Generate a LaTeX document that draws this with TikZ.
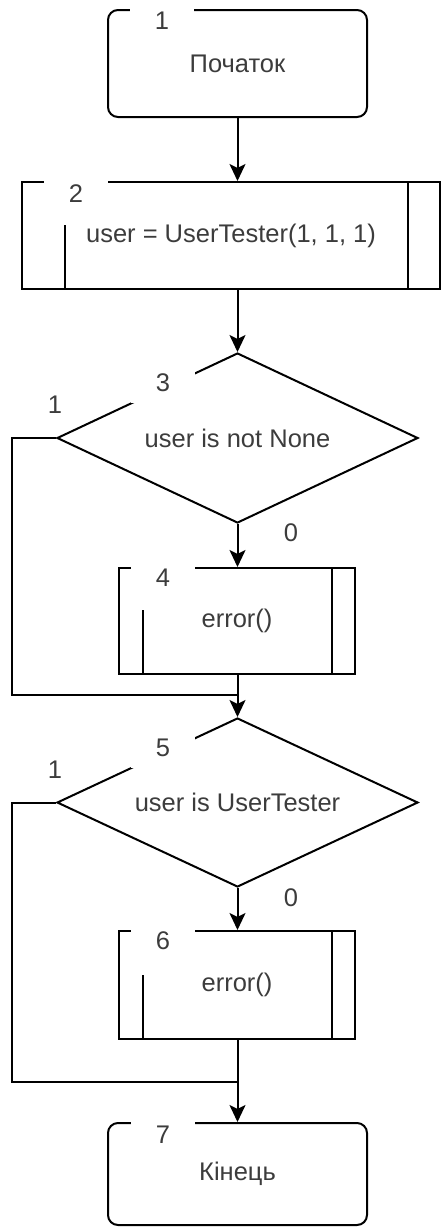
\documentclass[tikz,border=0pt]{standalone}
\usepackage{fontspec}
\setmainfont{Liberation Sans}
\usetikzlibrary{shapes.geometric,arrows.meta}
\definecolor{txt}{RGB}{60,60,60}
\tikzset{
  every node/.style={font=\fontsize{25.5}{30}\selectfont, text=txt},
  ln/.style={line width=2pt, draw=black},
  term/.style={ln, rounded corners=10pt, minimum width=259pt, inner sep=0pt},
  proc/.style={ln, inner sep=0pt},
  dec/.style={ln, diamond, minimum width=361pt, minimum height=170pt, inner sep=0pt, aspect=2.1},
  num/.style={fill=white, minimum width=64pt, minimum height=40pt, inner sep=0pt},
  plain/.style={inner sep=0pt},
  arr/.style={ln, -{Stealth[length=17pt,width=16pt,inset=4pt]}},
}
\begin{document}
\begin{tikzpicture}[x=1pt,y=-1pt]
\useasboundingbox (0,0) rectangle (442,1227);
% nodes
\node[term, minimum height=107pt] (start) at (237.5,63.5) {Початок};
\node[proc, minimum width=418pt, minimum height=107pt] (p2) at (231,235.5) {user = UserTester(1, 1, 1)};
\draw[ln] (65,289) -- (65,225);
\draw[ln] (408,182) -- (408,289);
\node[dec] (d3) at (237.5,438) {user is not None};
\node[proc, minimum width=236pt, minimum height=106pt] (p4) at (237,621) {error()};
\draw[ln] (143,674) -- (143,610);
\draw[ln] (332,568) -- (332,674);
\node[dec, minimum height=169pt] (d5) at (237.5,802.5) {user is UserTester};
\node[proc, minimum width=236pt, minimum height=108pt] (p6) at (237,985) {error()};
\draw[ln] (143,1039) -- (143,975);
\draw[ln] (332,931) -- (332,1039);
\node[term, minimum height=102pt] (end) at (237.5,1174) {Кінець};
% number labels
\node[num] (n1) at (162,21) {1};
\node[num] (n2) at (76,194) {2};
\node[num] (n3) at (163,383) {3};
\node[num] (n4) at (163,578) {4};
\node[num] (n5) at (163,748) {5};
\node[num] (n6) at (163,941) {6};
\node[num] (n7) at (163,1135) {7};
% branch labels
\node[plain] (y3) at (55,405) {1};
\node[plain] (z3) at (291,533) {0};
\node[plain] (y5) at (55,770) {1};
\node[plain] (z5) at (291,898) {0};
% connectors
\coordinate (j1) at (237.5,695);
\coordinate (j2) at (237.5,1082);
\draw[arr] (start.south) -- (p2.north -| start.south);
\draw[arr] (p2.south -| d3.north) -- (d3.north);
\draw[arr] (d3.south) -- (p4.north -| d3.south);
\draw[ln] (p4.south -| j1) -- (j1);
\draw[ln] (d3.west) -- (12,438) -- (12,695) -- (j1);
\draw[arr] (j1) -- (d5.north);
\draw[arr] (d5.south) -- (p6.north -| d5.south);
\draw[ln] (p6.south -| j2) -- (j2);
\draw[ln] (d5.west) -- (12,802.5) -- (12,1082) -- (j2);
\draw[arr] (j2) -- (end.north);
\end{tikzpicture}
\end{document}
